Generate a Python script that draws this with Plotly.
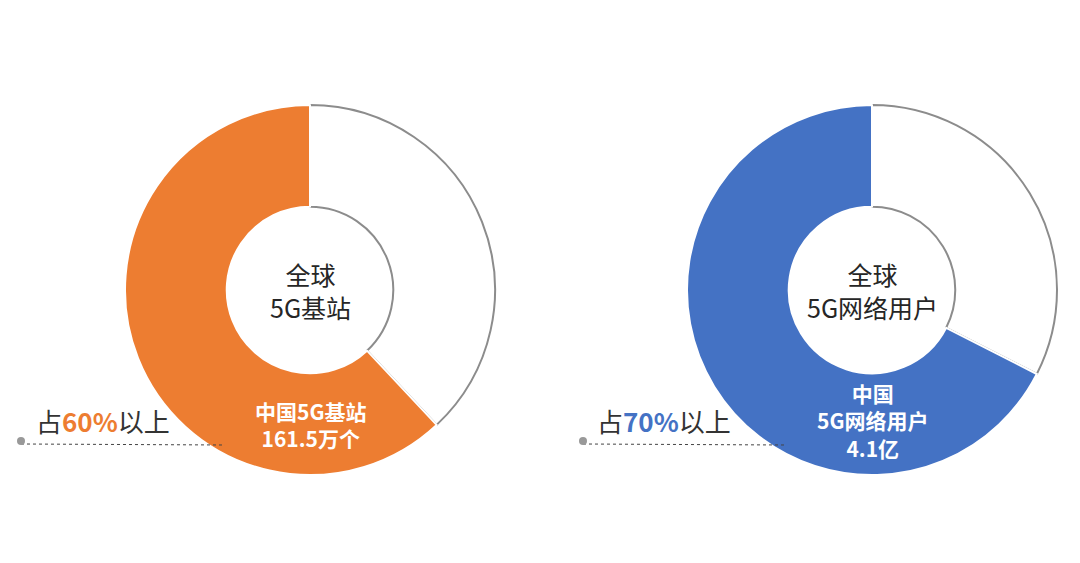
import plotly.graph_objects as go

# 数据
labels = ["中国", "其他"]
base_station_share = [62.0, 38.0]   # 全球5G基站
user_share = [67.5, 32.5]           # 全球5G网络用户

orange = "#ED7D31"
blue = "#4472C4"
ring_gray = "#8C8C8C"
font_cn = "Noto Sans CJK SC"

W, H = 1080, 563

def px_x(v):
    return v / W

def px_y(v):
    return 1 - v / H

fig = go.Figure()

# clockwise from top: the white part first, then the coloured part drawn over it
fig.add_trace(go.Pie(
    labels=labels[::-1], values=base_station_share[::-1],
    hole=0.45, sort=False, direction="clockwise", rotation=0,
    marker=dict(colors=["white", orange],
                line=dict(color=[ring_gray, "white"], width=[2, 2])),
    textinfo="none", hoverinfo="label+percent", showlegend=False,
    domain=dict(x=[px_x(125), px_x(495)], y=[px_y(475), px_y(105)]),
))

fig.add_trace(go.Pie(
    labels=labels[::-1], values=user_share[::-1],
    hole=0.45, sort=False, direction="clockwise", rotation=0,
    marker=dict(colors=["white", blue],
                line=dict(color=[ring_gray, "white"], width=[2, 2])),
    textinfo="none", hoverinfo="label+percent", showlegend=False,
    domain=dict(x=[px_x(687), px_x(1057)], y=[px_y(475), px_y(105)]),
))

def note(x, y, text, size, color, xanchor="center"):
    fig.add_annotation(x=px_x(x), y=px_y(y), xref="paper", yref="paper",
                       xanchor=xanchor, yanchor="middle", borderpad=0,
                       text=text, showarrow=False,
                       font=dict(family=font_cn, size=size, color=color))

# centre text
note(310, 290, "全球<br>5G基站", 25, "#262626")
note(872, 290, "全球<br>5G网络用户", 25, "#262626")

# slice labels
note(310, 424, "<b>中国5G基站<br>161.5万个</b>", 21, "white")
note(872, 420, "<b>中国<br>5G网络用户<br>4.1亿</b>", 21, "white")

# side notes
note(35, 420, "占<b><span style='color:%s'>60%%</span></b>以上" % orange, 26, "#333333", "left")
note(596, 420, "占<b><span style='color:%s'>70%%</span></b>以上" % blue, 26, "#333333", "left")

for x0, x1 in [(21, 225), (583, 785)]:
    fig.add_shape(type="line", xref="paper", yref="paper",
                  x0=px_x(x0), x1=px_x(x1), y0=px_y(444), y1=px_y(445),
                  line=dict(color="#444444", width=1, dash="dot"))
    fig.add_shape(type="circle", xref="paper", yref="paper",
                  x0=px_x(x0 - 4), x1=px_x(x0 + 4), y0=px_y(445), y1=px_y(437),
                  fillcolor="#999999", line=dict(width=0))

fig.update_layout(width=W, height=H, margin=dict(l=0, r=0, t=0, b=0),
                  paper_bgcolor="white", plot_bgcolor="white")

fig.write_html("out.html", config={"displayModeBar": False},
               post_script="document.body.style.margin='0';")
